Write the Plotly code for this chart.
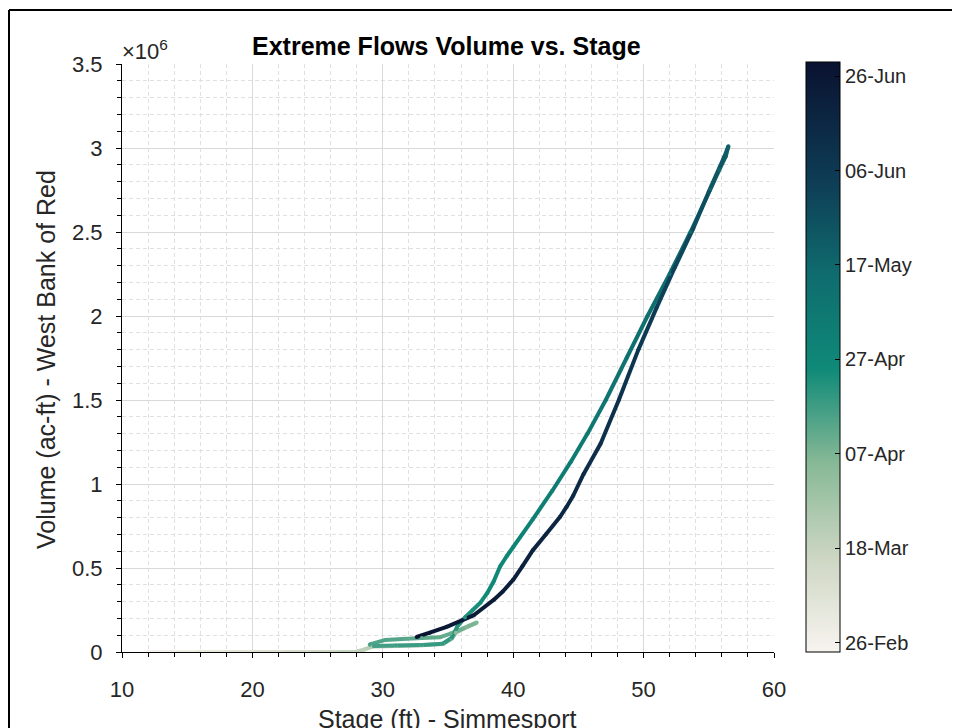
import pandas as pd
import plotly.graph_objects as go
from plotly.colors import sample_colorscale

# ---------------- data ----------------
dates = [
    "2011-02-24", "2011-02-27", "2011-03-02", "2011-03-05", "2011-03-08", "2011-03-11",
    "2011-03-14", "2011-03-17", "2011-03-19",
    "2011-03-21", "2011-03-23", "2011-03-25", "2011-03-27", "2011-03-29", "2011-03-31",
    "2011-04-02", "2011-04-04", "2011-04-06",
    "2011-04-08", "2011-04-10", "2011-04-11", "2011-04-12", "2011-04-13", "2011-04-14",
    "2011-04-15",
    "2011-04-16", "2011-04-17", "2011-04-18", "2011-04-19", "2011-04-20", "2011-04-21",
    "2011-04-22", "2011-04-23", "2011-04-24", "2011-04-25", "2011-04-26", "2011-04-27",
    "2011-04-28", "2011-04-29", "2011-05-01", "2011-05-03", "2011-05-05", "2011-05-07",
    "2011-05-09", "2011-05-11", "2011-05-13", "2011-05-15", "2011-05-16", "2011-05-17",
    "2011-05-18", "2011-05-19", "2011-05-20",
    "2011-05-23", "2011-05-26", "2011-05-29", "2011-06-01", "2011-06-04", "2011-06-07",
    "2011-06-10", "2011-06-12", "2011-06-14", "2011-06-15", "2011-06-16", "2011-06-17",
    "2011-06-18", "2011-06-19", "2011-06-20", "2011-06-21", "2011-06-22", "2011-06-23",
    "2011-06-24", "2011-06-25", "2011-06-27", "2011-06-29",
]
stage_ft = [
    12.0, 13.6, 15.8, 18.0, 20.2, 22.4,
    24.6, 26.6, 27.9,
    28.6, 29.2, 31.0, 33.0, 34.6, 35.3,
    35.6, 36.3, 37.2,
    36.2, 35.2, 34.4, 33.0, 31.5, 30.2,
    29.0,
    29.3, 31.0, 33.0, 34.6, 35.3, 35.7,
    36.3, 36.9, 37.5, 38.0, 38.5, 39.0,
    39.5, 40.0, 41.5, 43.0, 44.4, 45.7,
    47.1, 48.7, 50.3, 52.0, 53.6, 55.1,
    55.8, 56.3, 56.5,
    56.2, 55.0, 53.8, 52.4, 51.0, 49.6,
    48.1, 46.7, 45.4, 44.6, 44.1, 43.6,
    42.5, 41.5, 40.7, 40.0, 39.2, 38.5,
    37.0, 34.9, 33.6, 32.6,
]
volume_acft = [
    0, 0, 0, 0, 0, 0,
    0, 0, 0,
    15000, 32000, 36000, 40000, 48000, 80000,
    115000, 145000, 175000,
    140000, 110000, 88000, 84000, 78000, 72000,
    45000,
    35000, 38000, 41000, 49000, 85000, 150000,
    205000, 250000, 295000, 350000, 420000, 510000,
    570000, 625000, 790000, 960000, 1130000, 1300000,
    1500000, 1750000, 2000000, 2250000, 2500000, 2750000,
    2870000, 2950000, 3010000,
    2950000, 2740000, 2520000, 2290000, 2050000, 1800000,
    1500000, 1240000, 1060000, 930000, 865000, 805000,
    700000, 605000, 510000, 430000, 360000, 310000,
    220000, 150000, 115000, 90000,
]
x_ticks = [10, 20, 30, 40, 50, 60]
y_ticks = [0, 500000, 1000000, 1500000, 2000000, 2500000, 3000000, 3500000]
y_ticktext = ["0", "0.5", "1", "1.5", "2", "2.5", "3", "3.5"]
cbar_dates = ["2011-02-26", "2011-03-18", "2011-04-07", "2011-04-27",
              "2011-05-17", "2011-06-06", "2011-06-26"]
cbar_labels = ["26-Feb", "18-Mar", "07-Apr", "27-Apr", "17-May", "06-Jun", "26-Jun"]

# colour map
colorscale = [
    [0.00, "rgb(248,244,240)"],
    [0.16, "rgb(205,214,195)"],
    [0.32, "rgb(135,185,150)"],
    [0.48, "rgb(15,138,120)"],
    [0.64, "rgb(15,108,110)"],
    [0.80, "rgb(14,60,85)"],
    [1.00, "rgb(10,18,48)"],
]

# ---------------- helpers ----------------
ref = pd.Timestamp("2011-01-01")
day = [(pd.Timestamp(d) - ref).days for d in dates]
cb_vals = [(pd.Timestamp(d) - ref).days for d in cbar_dates]
dmin, dmax = min(day), max(day)

# page is shifted by the browser's 8px body margin
OFF = 8
PL, PR, PT, PB = 122, 774, 64, 652          # plot area in screen pixels
W, H = PR - PL, PB - PT


def px(xs):
    return (xs - PL) / W


def py(ys):
    return (PB - ys) / H


FONT = "Liberation Sans, Arial, Helvetica, sans-serif"
fig = go.Figure()

for i in range(len(day) - 1):
    t = ((day[i] + day[i + 1]) / 2 - dmin) / (dmax - dmin)
    col = sample_colorscale(colorscale, [t])[0]
    fig.add_trace(go.Scatter(
        x=[stage_ft[i], stage_ft[i + 1]], y=[volume_acft[i], volume_acft[i + 1]],
        mode="lines", line=dict(color=col, width=4),
        showlegend=False, hoverinfo="skip"))

fig.add_trace(go.Scatter(
    x=stage_ft, y=volume_acft, mode="markers",
    marker=dict(size=4, color=day, colorscale=colorscale, cmin=dmin, cmax=dmax,
                line=dict(width=0),
                colorbar=dict(
                    thickness=34, thicknessmode="pixels",
                    len=590, lenmode="pixels",
                    x=px(806), xanchor="left",
                    y=py(357), yanchor="middle",
                    outlinecolor="black", outlinewidth=1,
                    tickvals=cb_vals, ticktext=cbar_labels,
                    ticks="inside", ticklen=5, tickcolor="black",
                    tickfont=dict(family=FONT, size=20, color="#262626"),
                    ypad=0, xpad=0)),
    showlegend=False, hoverinfo="skip"))

axis_common = dict(
    showline=True, linecolor="black", linewidth=1.2, mirror=False,
    ticks="outside", ticklen=5, tickcolor="black", tickwidth=1,
    showgrid=True, gridcolor="#d9d9d9", gridwidth=1,
    zeroline=False,
    tickfont=dict(family=FONT, size=22, color="#262626"),
)

fig.update_xaxes(
    range=[10, 60], tickvals=x_ticks, ticklabelstandoff=12,
    minor=dict(dtick=2, tick0=10, ticks="outside", ticklen=4, tickcolor="black",
               showgrid=True, gridcolor="#e0e0e0", griddash="4px,3px"),
    **axis_common)
fig.update_yaxes(
    range=[0, 3500000], tickvals=y_ticks, ticktext=y_ticktext, ticklabelstandoff=9,
    minor=dict(dtick=100000, tick0=0, ticks="outside", ticklen=4, tickcolor="black",
               showgrid=True, gridcolor="#e0e0e0", griddash="4px,3px"),
    **axis_common)

fig.update_layout(
    width=960, height=728,
    margin=dict(l=PL - OFF, r=960 - (PR - OFF), t=PT - OFF, b=728 - (PB - OFF)),
    paper_bgcolor="white", plot_bgcolor="white",
    font=dict(family=FONT, color="#262626"),
    annotations=[
        dict(text="<b>Extreme Flows Volume vs. Stage</b>", xref="paper", yref="paper",
             x=px(446), y=py(46), xanchor="center", yanchor="middle",
             showarrow=False, font=dict(family=FONT, size=25, color="black")),
        dict(text="×10<sup>6</sup>", xref="paper", yref="paper",
             x=px(120), y=py(50), xanchor="left", yanchor="middle",
             showarrow=False, font=dict(family=FONT, size=22, color="#262626")),
        dict(text="Stage (ft) - Simmesport", xref="paper", yref="paper",
             x=px(447), y=py(719), xanchor="center", yanchor="middle",
             showarrow=False, font=dict(family=FONT, size=25, color="#262626")),
        dict(text="Volume (ac-ft) - West Bank of Red", xref="paper", yref="paper",
             x=px(46), y=py(360), xanchor="center", yanchor="middle",
             textangle=-90, showarrow=False,
             font=dict(family=FONT, size=25, color="#262626")),
    ],
    shapes=[
        dict(type="line", xref="paper", yref="paper",
             x0=px(9), x1=px(975), y0=py(10), y1=py(10),
             line=dict(color="black", width=2)),
        dict(type="line", xref="paper", yref="paper",
             x0=px(9), x1=px(9), y0=py(10), y1=py(740),
             line=dict(color="black", width=2)),
    ],
)

fig.write_html("out.html")
